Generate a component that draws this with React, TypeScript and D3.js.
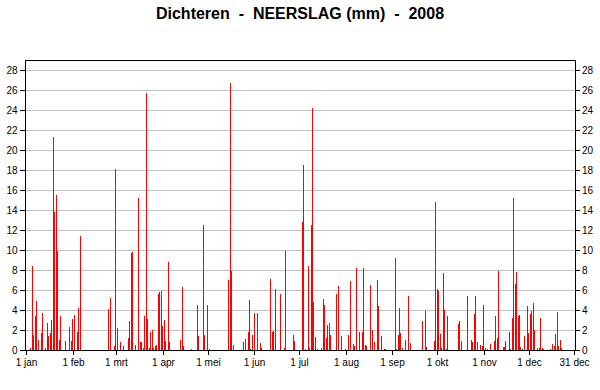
import React from 'react';
import * as d3 from 'd3';

// daily rainfall Dichteren 2008, day index (0 = 1 jan) and mm
const rainDays = [
    3, 4, 5, 6, 7, 8, 10, 11, 13, 14, 15, 16, 17, 18, 19, 20, 21, 22, 23, 26, 29, 30, 31, 32, 34, 35, 36,
    55, 56, 59, 60, 61, 63, 65, 68, 69, 70, 71, 73, 75, 76, 77, 78, 79, 80, 81, 82, 83, 84, 85, 86, 87, 88, 89, 90,
    91, 92, 93, 95, 96, 103, 104, 105, 110, 114, 115, 118, 119, 121, 122, 135, 136, 137, 138, 145, 146, 148, 149, 150, 151,
    152, 154, 156, 157, 163, 164, 165, 166, 170, 172, 173, 178, 179,
    184, 185, 186, 188, 189, 190, 191, 192, 193, 194, 197, 198, 199, 200, 201, 202, 203, 207, 208, 210,
    213, 215, 216, 218, 219, 220, 222, 224, 225, 226, 227, 230, 231, 232, 234, 235, 237, 239, 240,
    246, 247, 248, 249, 250, 251, 253, 255, 256, 264, 266, 267, 272, 273,
    274, 275, 276, 277, 278, 279, 280, 281, 288, 289, 290, 294, 297, 298, 299, 300, 301, 303, 304,
    305, 306, 308, 310, 312, 313, 314, 315, 318, 319, 320, 322, 323, 324, 325, 326, 327, 328, 329, 330, 331, 332, 334,
    335, 336, 337, 338, 339, 341, 342, 343, 344, 345, 350, 351, 352, 353, 354, 355, 356, 357,
];
const rainMm = [
    0.2, 8.4, 1.5, 3.4, 4.9, 1.0, 1.7, 3.7, 0.2, 2.7, 1.4, 1.7, 3.0, 21.3, 13.8, 15.5, 9.9, 1.0, 3.4, 0.9, 2.3, 0.9, 3.1, 3.5, 1.8, 4.2, 11.4,
    4.1, 5.2, 0.4, 18.1, 2.2, 0.8, 0.4, 1.2, 2.9, 9.7, 9.8, 0.5, 15.2, 0.8, 0.8, 0.2, 3.4, 25.7, 3.1, 0.2, 1.8, 2.0, 0.2, 0.4, 0.5, 5.6, 5.8, 5.9,
    2.4, 3.0, 0.9, 8.8, 0.8, 1.0, 6.3, 0.4, 0.1, 4.5, 1.4, 12.5, 1.5, 4.5, 0.1, 7.0, 26.7, 7.9, 0.5, 0.8, 1.1, 1.8, 5.0, 0.1, 1.5,
    3.7, 3.7, 0.7, 0.2, 7.1, 1.8, 1.9, 6.1, 5.6, 0.2, 9.9, 1.5, 0.9,
    12.8, 18.5, 0.1, 8.4, 0.2, 12.5, 24.2, 4.8, 1.3, 0.1, 0.2, 5.1, 4.5, 1.2, 2.5, 2.7, 1.5, 5.6, 6.4, 1.4,
    0.1, 1.5, 6.9, 0.6, 0.4, 8.2, 1.8, 1.8, 8.2, 0.5, 0.4, 6.5, 2.0, 0.8, 7.0, 4.4, 1.4, 0.1, 0.1,
    9.2, 0.1, 1.5, 4.2, 1.7, 0.2, 1.0, 5.4, 0.7, 2.9, 3.9, 0.3, 0.9, 14.8,
    6.1, 5.9, 1.6, 0.2, 7.7, 4.0, 0.1, 3.4, 2.6, 2.9, 0.9, 5.4, 1.0, 0.8, 3.6, 5.4, 0.8, 0.5, 0.4,
    4.5, 0.2, 0.1, 0.6, 0.9, 3.4, 1.2, 7.9, 0.3, 0.3, 0.9, 1.8, 0.1, 3.2, 15.2, 6.6, 7.8, 3.4, 3.5, 0.3, 0.1, 1.4, 4.4,
    1.7, 3.6, 3.9, 4.7, 2.0, 0.2, 0.2, 3.2, 0.2, 0.1, 0.1, 0.6, 0.4, 1.6, 3.8, 0.4, 1.0, 0.2,
];

const monthNames = ['jan', 'feb', 'mrt', 'apr', 'mei', 'jun', 'jul', 'aug', 'sep', 'okt', 'nov', 'dec'];
const yTicks = [0, 2, 4, 6, 8, 10, 12, 14, 16, 18, 20, 22, 24, 26, 28];
const title = 'Dichteren  -  NEERSLAG (mm)  -  2008';

const width = 600;
const height = 390;
const left = 25;
const right = 575;
const top = 60;
const bottom = 350;
const font = 'Arial, "Liberation Sans", sans-serif';

function App() {
    const start = new Date(Date.UTC(2008, 0, 1));
    const end = new Date(Date.UTC(2008, 11, 31));

    const x = d3.scaleUtc().domain([start, end]).range([26.5, 574]);
    const y = d3.scaleLinear().domain([0, 29]).range([bottom, top]);

    // month starts plus the last day
    const xTicks = d3.utcMonth.range(start, d3.utcDay.offset(end, 1)).map((d, i) => ({
        date: d,
        label: '1 ' + monthNames[i],
    }));
    xTicks.push({ date: end, label: '31 dec' });

    const bars = rainDays.map((day, i) => ({ date: d3.utcDay.offset(start, day), mm: rainMm[i] }));

    return (
        <svg width={width} height={height} style={{ position: 'absolute', left: 0, top: 0, background: '#fff' }}>
            <text x={300} y={19} textAnchor="middle" fontFamily={font} fontWeight="bold" fontSize={16}
                  style={{ whiteSpace: 'pre' }}>{title}</text>

            {/* grid */}
            {yTicks.filter(t => t > 0).map(t => (
                <line key={'g' + t} x1={left + 1} x2={right} y1={Math.round(y(t)) + 0.5} y2={Math.round(y(t)) + 0.5}
                      stroke="#c0c0c0" />
            ))}

            {/* rain bars */}
            {bars.map((b, i) => (
                <rect key={i} x={Math.floor(x(b.date) - 0.5)} width={1}
                      y={Math.round(y(b.mm))} height={Math.max(1, bottom - Math.round(y(b.mm)))} fill="#ff0000" />
            ))}

            {/* frame */}
            <rect x={left + 0.5} y={top + 0.5} width={right - left} height={bottom - top} fill="none" stroke="#000" />

            {/* y axes both sides */}
            {yTicks.map(t => {
                const yy = Math.round(y(t)) + 0.5;
                return (
                    <g key={'y' + t} fontFamily={font} fontSize={10}>
                        <line x1={20} x2={left} y1={yy} y2={yy} stroke="#000" />
                        <line x1={right} x2={580} y1={yy} y2={yy} stroke="#000" />
                        <text x={17.5} y={yy} dy="0.35em" textAnchor="end">{t}</text>
                        <text x={582} y={yy} dy="0.35em" textAnchor="start">{t}</text>
                    </g>
                );
            })}

            {/* x axis */}
            {xTicks.map(t => {
                const xx = Math.floor(x(t.date)) + 0.5;
                return (
                    <g key={t.label} fontFamily={font} fontSize={10}>
                        <line x1={xx} x2={xx} y1={bottom} y2={bottom + 5} stroke="#000" />
                        <text x={xx} y={366} textAnchor="middle">{t.label}</text>
                    </g>
                );
            })}
        </svg>
    );
}

export default App;
